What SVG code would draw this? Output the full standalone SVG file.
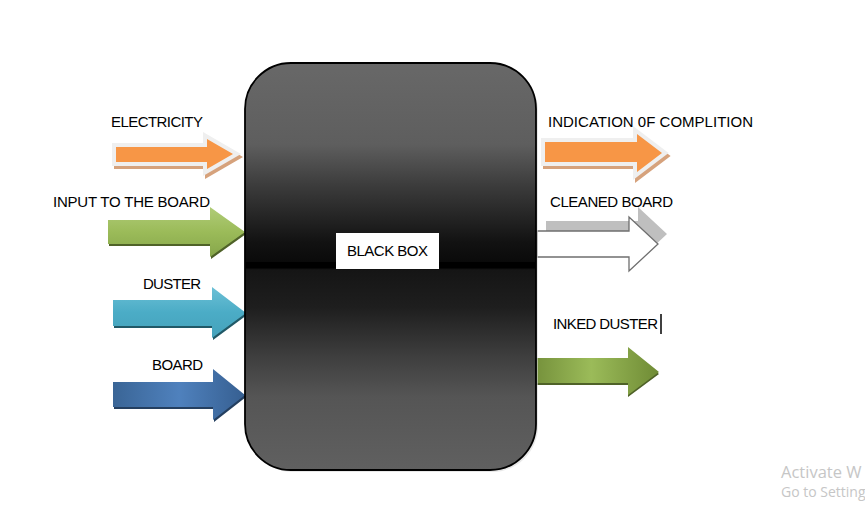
<svg xmlns="http://www.w3.org/2000/svg" width="865" height="513" viewBox="0 0 865 513">
<defs>
<style>
.lbl{font-family:"Liberation Sans",Arial,sans-serif;font-size:15px;fill:#000}
.wm{font-family:"Open Sans","Noto Sans",sans-serif;fill:#c6c6c6}
</style>
<linearGradient id="boxg" x1="0" y1="0" x2="0" y2="1">
<stop offset="0" stop-color="#686868"/>
<stop offset="0.2" stop-color="#5e5e5e"/>
<stop offset="0.3" stop-color="#3c3c3c"/>
<stop offset="0.44" stop-color="#121212"/>
<stop offset="0.488" stop-color="#0a0a0a"/>
<stop offset="0.49" stop-color="#000"/>
<stop offset="0.503" stop-color="#000"/>
<stop offset="0.508" stop-color="#151515"/>
<stop offset="0.6" stop-color="#1e1e1e"/>
<stop offset="0.72" stop-color="#3e3e3e"/>
<stop offset="0.82" stop-color="#555"/>
<stop offset="1" stop-color="#606060"/>
</linearGradient>
<linearGradient id="greenV" x1="0" y1="0" x2="0" y2="1">
<stop offset="0" stop-color="#b0cc78"/>
<stop offset="0.5" stop-color="#9bbb59"/>
<stop offset="1" stop-color="#86a64a"/>
</linearGradient>
<linearGradient id="greenH" x1="0" y1="0" x2="1" y2="0">
<stop offset="0" stop-color="#76923c"/>
<stop offset="0.45" stop-color="#9bbb59"/>
<stop offset="1" stop-color="#6f8b35"/>
</linearGradient>
<linearGradient id="tealV" x1="0" y1="0" x2="0" y2="1">
<stop offset="0" stop-color="#6cc0d6"/>
<stop offset="0.5" stop-color="#4bacc6"/>
<stop offset="1" stop-color="#45a2bb"/>
</linearGradient>
<linearGradient id="blueH" x1="0" y1="0" x2="1" y2="0">
<stop offset="0" stop-color="#3a6596"/>
<stop offset="0.5" stop-color="#4f81bd"/>
<stop offset="1" stop-color="#365f91"/>
</linearGradient>
</defs>
<rect width="865" height="513" fill="#fff"/>

<g id="connectors">
<g id="arrow-electricity">
<polygon points="116,147 207,147 207,139 233,154 207,169 207,162 116,162" fill="#d6a27c" stroke="#d6a27c" stroke-width="8" stroke-linejoin="miter" transform="translate(2,3)"/>
<polygon points="116,147 207,147 207,139 233,154 207,169 207,162 116,162" fill="#efefef" stroke="#efefef" stroke-width="8" stroke-linejoin="miter"/>
<polygon points="116,147 207,147 207,139 233,154 207,169 207,162 116,162" fill="#f79646"/>
<text class="lbl" x="111" y="127" textLength="92" lengthAdjust="spacing">ELECTRICITY</text>
</g>
<g id="arrow-input">
<polygon points="108,220 210,220 210,207 245,232 210,257 210,244 108,244" fill="#4f6228" transform="translate(1,2)"/>
<polygon points="108,220 210,220 210,207 245,232 210,257 210,244 108,244" fill="url(#greenV)"/>
<text class="lbl" x="53" y="207" textLength="157" lengthAdjust="spacing">INPUT TO THE BOARD</text>
</g>
<g id="arrow-duster">
<polygon points="113,300 212,300 212,287 246,313 212,338 212,326 113,326" fill="#215967" transform="translate(1,2)"/>
<polygon points="113,300 212,300 212,287 246,313 212,338 212,326 113,326" fill="url(#tealV)"/>
<text class="lbl" x="143" y="289" textLength="58" lengthAdjust="spacing">DUSTER</text>
</g>
<g id="arrow-board">
<polygon points="113,382 213,382 213,369 245,395 213,420 213,407 113,407" fill="#243f60" transform="translate(1,2)"/>
<polygon points="113,382 213,382 213,369 245,395 213,420 213,407 113,407" fill="url(#blueH)"/>
<text class="lbl" x="152" y="370" textLength="51" lengthAdjust="spacing">BOARD</text>
</g>
<g id="arrow-indication">
<polygon points="545,142 637,142 637,134 662,153 637,172 637,162 545,162" fill="#d6a27c" stroke="#d6a27c" stroke-width="8" stroke-linejoin="miter" transform="translate(2,3)"/>
<polygon points="545,142 637,142 637,134 662,153 637,172 637,162 545,162" fill="#efefef" stroke="#efefef" stroke-width="8" stroke-linejoin="miter"/>
<polygon points="545,142 637,142 637,134 662,153 637,172 637,162 545,162" fill="#f79646"/>
<text class="lbl" x="548" y="127" textLength="205" lengthAdjust="spacing">INDICATION 0F COMPLITION</text>
</g>
<g id="arrow-cleaned">
<polygon points="537,231 629,231 629,217 658,244 629,271 629,257 537,257" fill="#bfbfbf" transform="translate(9,-10)"/>
<polygon points="537,231 629,231 629,217 658,244 629,271 629,257 537,257" fill="#fff" stroke="#6f6f6f" stroke-width="1.3"/>
<text class="lbl" x="550" y="207" textLength="123" lengthAdjust="spacing">CLEANED BOARD</text>
</g>
<g id="arrow-inked">
<polygon points="536,358 628,358 628,347 659,372 628,395 628,383 536,383" fill="#4f6228" transform="translate(0,2)"/>
<polygon points="536,358 628,358 628,347 659,372 628,395 628,383 536,383" fill="url(#greenH)"/>
<text class="lbl" x="553" y="329" textLength="105" lengthAdjust="spacing">INKED DUSTER</text>
<line x1="661" y1="314" x2="661" y2="334" stroke="#000" stroke-width="1.5"/>
</g>
</g>

<g id="black-box">
<rect x="247" y="65" width="291" height="407" rx="46" ry="46" fill="#d8d8d8" opacity="0.6"/>
<rect x="245" y="63" width="291" height="407" rx="46" ry="46" fill="url(#boxg)" stroke="#000" stroke-width="1.8"/>
<rect x="336" y="233" width="103" height="36" fill="#fff"/>
<text class="lbl" x="387.5" y="256" text-anchor="middle" textLength="81" lengthAdjust="spacing">BLACK BOX</text>
</g>

<g id="watermark">
<text class="wm" x="781" y="478" font-size="16.5">Activate W</text>
<text class="wm" x="781" y="497" font-size="14">Go to Setting</text>
</g>
</svg>
